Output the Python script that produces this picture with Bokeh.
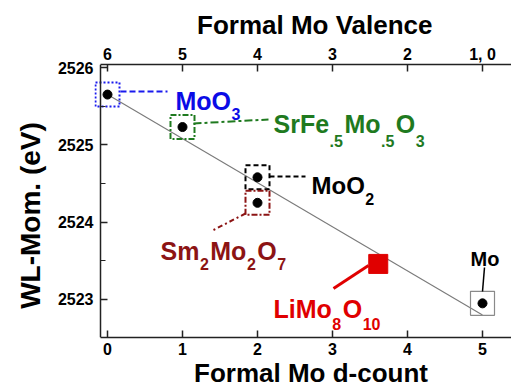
import re

from bokeh.plotting import figure
from bokeh.models import Range1d, LinearAxis, FixedTicker, Label, Title
from bokeh.embed import file_html
from bokeh.resources import INLINE

# ---- data -------------------------------------------------------------
compounds = ["MoO3", "SrFe.5Mo.5O3", "MoO2", "Sm2Mo2O7", "Mo"]
d_count = [0, 1, 2, 2, 5]
wl_mom = [2525.65, 2525.23, 2524.58, 2524.25, 2522.95]

li_name = "LiMo8O10"
li_d = [3.61]
li_wl = [2523.46]

trend_d = [0, 5]
trend_wl = [2525.65, 2522.80]

d_ticks = [0, 1, 2, 3, 4, 5]
valence_labels = ["6", "5", "4", "3", "2", "1, 0"]
wl_ticks = [2523, 2524, 2525, 2526]
wl_minor = [2523.5, 2524.5, 2525.5]

# ---- styling ----------------------------------------------------------
label_colors = ["#0b0be6", "#1f7a1f", "#000000", "#8c1414", "#000000"]
box_colors = ["#1a1aee", "#1f7a1f", "#000000", "#8c1414", "#8a8a8a"]
box_dash = ["2 2", "6 2 2 2", "5 3", "6 2 2 2", "solid"]
box_width = [2, 2, 2, 2, 1.2]
lead_dash = ["6 3", "8 3 3 3", "5 3", "5 3 2 3", "solid"]
lead_width = [2, 2, 2, 2, 1.5]
li_color = "#e00000"

FONT = "Liberation Sans"
W, H = 511, 390
FL, FT, FH = 94, 64, 273        # frame left/top/height (px); frame runs to the right edge
AXIS_X = 100                    # pixel column of the left spine
FW = W - FL
PX_PER_D = 75.0
PX_PER_EV = 77.33

x_start = -(107 - FL) / PX_PER_D
x_end = x_start + FW / PX_PER_D
y_end = 2526 + 3 / PX_PER_EV
y_start = y_end - FH / PX_PER_EV


def px_x(px):
    return x_start + (px - FL) / PX_PER_D


def px_y(py):
    return y_end - (py - FT) / PX_PER_EV


# Arial/Liberation Sans Bold advance widths (per 1000 em)
ADV = {"M": 833, "o": 611, "O": 778, "S": 667, "r": 389, "F": 611, "e": 556,
       ".": 278, "m": 889, "L": 611, "i": 278, "a": 556, "l": 278, " ": 278,
       "V": 667, "n": 611, "c": 556, "d": 611, "-": 333, "u": 611, "t": 333,
       "W": 944, "(": 333, ")": 333}


def text_w(s, size):
    return sum(ADV.get(c, 556) for c in s) * size / 1000.0


p = figure(width=W, height=H, output_backend="svg", toolbar_location=None,
           x_range=Range1d(x_start, x_end), y_range=Range1d(y_start, y_end),
           min_border_left=FL, min_border_top=FT, min_border_right=0,
           min_border_bottom=H - FT - FH)
p.outline_line_color = None
p.grid.visible = False
p.background_fill_color = "white"
p.title.visible = False


def style_axis(ax, standoff):
    ax.axis_line_color = "#222222"
    ax.axis_line_width = 1.5
    ax.major_tick_line_color = "#222222"
    ax.major_tick_line_width = 1.5
    ax.major_tick_in = 7
    ax.major_tick_out = 0
    ax.minor_tick_line_color = "#222222"
    ax.minor_tick_line_width = 1.2
    ax.minor_tick_in = 5
    ax.minor_tick_out = 0
    ax.major_label_text_font = FONT
    ax.major_label_text_font_style = "bold"
    ax.major_label_text_font_size = "16px"
    ax.major_label_text_color = "black"
    ax.major_label_standoff = standoff


# bottom axis: d-count
xb = p.xaxis[0]
xb.ticker = FixedTicker(ticks=d_ticks)
xb.bounds = (px_x(AXIS_X), x_end)
style_axis(xb, 5)

# left spine, pinned to the spine column: long ticks at whole eV
yl = p.yaxis[0]
yl.ticker = FixedTicker(ticks=[], minor_ticks=wl_ticks)
yl.fixed_location = px_x(AXIS_X)
style_axis(yl, 0)
yl.minor_tick_in = 7
yl.minor_tick_line_width = 1.5

# short ticks at half eV on the same spine
yl_half = LinearAxis(ticker=FixedTicker(ticks=[], minor_ticks=wl_minor),
                     fixed_location=px_x(AXIS_X))
style_axis(yl_half, 0)
yl_half.axis_line_color = None
p.add_layout(yl_half, "left")

# left tick labels
yl_lab = LinearAxis(ticker=FixedTicker(ticks=wl_ticks),
                    major_label_overrides={t: str(t) for t in wl_ticks})
style_axis(yl_lab, 1)
yl_lab.axis_line_color = None
yl_lab.major_tick_line_color = None
yl_lab.minor_tick_line_color = None
p.add_layout(yl_lab, "left")

# top axis: formal valence
xt = LinearAxis(ticker=FixedTicker(ticks=d_ticks), bounds=(px_x(AXIS_X), x_end),
                major_label_overrides={t: v for t, v in zip(d_ticks, valence_labels)})
style_axis(xt, 2)
p.add_layout(xt, "above")

# trend line
p.line(trend_d, trend_wl, line_color="#7a7a7a", line_width=1.1)

# boxes and points
for i in range(len(compounds)):
    p.scatter([d_count[i]], [wl_mom[i]], marker="square", size=24,
              fill_alpha=0, line_color=box_colors[i], line_width=box_width[i],
              line_dash=box_dash[i])
p.scatter(d_count, wl_mom, marker="circle", size=9, fill_color="black",
          line_color="black")
p.scatter(li_d, li_wl, marker="square", size=19, fill_color=li_color,
          line_color=li_color)

# leader lines (pixel endpoints)
leaders = [((120, 91), (167, 91)), ((193, 123), (268, 119)),
           ((269, 176), (305, 176)), ((245, 213), (212, 230)),
           ((482, 291), (484, 267))]
for i, ((ax_, ay), (bx, by)) in enumerate(leaders):
    p.segment([px_x(ax_)], [px_y(ay)], [px_x(bx)], [px_y(by)],
              line_color=box_colors[i] if i != 4 else "black",
              line_width=lead_width[i], line_dash=lead_dash[i])
p.segment([px_x(333)], [px_y(288)], [px_x(368)], [px_y(265)],
          line_color=li_color, line_width=3)

# formula labels with subscripts: (start px, baseline px, size, subscript drop)
label_pos = [(175, 100, 25, 13), (273, 123, 25, 17), (311, 185, 24, 13),
             (160, 250, 25, 13), (470, 258, 20, 13)]


def formula(name, x0, base, size, drop, color):
    cur = x0
    sub_size = 16
    for word, sub in re.findall(r"([A-Za-z]+)|([.\d]+)", name):
        txt = word or sub
        fs = sub_size if sub else size
        by = base + (drop if sub else 0)
        p.add_layout(Label(x=px_x(cur), y=px_y(by), text=txt, text_font=FONT,
                           text_font_style="bold", text_font_size=f"{fs}px",
                           text_color=color, text_align="left",
                           text_baseline="alphabetic"))
        cur += text_w(txt, fs) + (1.5 if sub else 0.5)


for i, name in enumerate(compounds):
    x0, base, size, drop = label_pos[i]
    formula(name, x0, base, size, drop, label_colors[i])
formula(li_name, 273, 308, 25, 15, li_color)

# axis titles as side-panel titles
top_txt, bot_txt, left_txt = "Formal Mo Valence", "Formal Mo d-count", "WL-Mom. (eV)"
title_kw = dict(text_font=FONT, text_font_style="bold", text_color="black",
                align="left")
p.add_layout(Title(text=top_txt, text_font_size="26px", vertical_align="bottom",
                   offset=315 - FL - text_w(top_txt, 26) / 2, standoff=6,
                   **title_kw), "above")
p.add_layout(Title(text=bot_txt, text_font_size="26px", vertical_align="top",
                   offset=310.5 - FL - text_w(bot_txt, 26) / 2, standoff=0,
                   **title_kw), "below")
p.add_layout(Title(text=left_txt, text_font_size="28px", vertical_align="bottom",
                   offset=(FT + FH) - 215 - text_w(left_txt, 28) / 2, standoff=17,
                   **title_kw), "left")

open("out.html", "w").write(file_html(p, INLINE))
